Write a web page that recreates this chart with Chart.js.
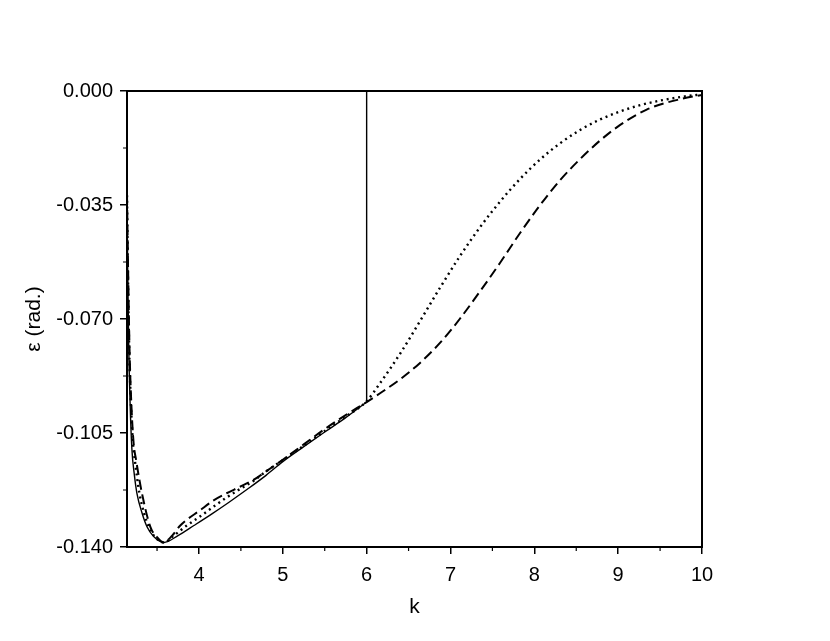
<!DOCTYPE html>
<html>
<head>
<meta charset="utf-8">
<title>epsilon(k)</title>
<script src="https://cdn.jsdelivr.net/npm/chart.js@4.4.1/dist/chart.umd.min.js"></script>
<style>
    html, body { margin: 0; padding: 0; background: #fff; }
    #wrap { width: 830px; height: 641px; }
</style>
</head>
<body>
<div id="wrap"><canvas id="epsChart" width="830" height="641"></canvas></div>
<script>
// Data
const kSolid = [3.1416, 3.15, 3.163, 3.18, 3.2, 3.23, 3.26, 3.32, 3.38, 3.46, 3.58, 3.75, 3.94, 4.15, 4.35, 4.58, 4.8, 5.0, 5.25, 5.5, 5.75, 6.0];
const epsSolid = [-0.032, -0.055, -0.0795, -0.097, -0.11, -0.118, -0.1235, -0.1295, -0.1338, -0.1368, -0.1386, -0.1365, -0.1334, -0.1299, -0.1264, -0.1222, -0.118, -0.1138, -0.1092, -0.1047, -0.1003, -0.0955];

// solid line jumps to zero at k = 6
const kJump = [6.0, 6.0, 10.0];
const epsJump = [-0.0955, 0, 0];

const kDotted = [3.1416, 3.152, 3.168, 3.19, 3.212, 3.235, 3.29, 3.4, 3.48, 3.58, 3.7, 3.85, 4.02, 4.18, 4.33, 4.49, 4.65, 4.8, 5.0, 5.25, 5.5, 5.75, 6.0,
    6.16, 6.4, 6.64, 6.88, 7.11, 7.35, 7.59, 7.83, 8.07, 8.31, 8.55, 8.78, 9.02, 9.27, 9.53, 9.76, 10.0];
const epsDotted = [-0.032, -0.055, -0.0795, -0.097, -0.108, -0.1133, -0.1235, -0.1338, -0.137, -0.1386, -0.1365, -0.1335, -0.1305, -0.1275, -0.1248, -0.1222, -0.1197, -0.1168, -0.1133, -0.1089, -0.1044, -0.1, -0.0952,
    -0.0897, -0.0806, -0.0705, -0.0602, -0.0508, -0.0419, -0.034, -0.027, -0.021, -0.016, -0.0119, -0.0088, -0.0063, -0.0043, -0.0028, -0.0018, -0.001];

const kDashed = [3.1416, 3.155, 3.172, 3.195, 3.22, 3.25, 3.32, 3.42, 3.5, 3.58, 3.68, 3.78, 4.02, 4.18, 4.33, 4.49, 4.65, 4.8, 5.0, 5.25, 5.5, 5.75, 6.0,
    6.16, 6.4, 6.64, 6.88, 7.11, 7.35, 7.59, 7.83, 8.07, 8.31, 8.55, 8.78, 9.02, 9.34, 9.74, 10.0];
const epsDashed = [-0.032, -0.055, -0.0795, -0.097, -0.108, -0.1133, -0.1235, -0.1338, -0.137, -0.1386, -0.1365, -0.1333, -0.1286, -0.1256, -0.1235, -0.1215, -0.1194, -0.1168, -0.1132, -0.1085, -0.1038, -0.0995, -0.0955,
    -0.0928, -0.0885, -0.0834, -0.0772, -0.07, -0.0616, -0.0528, -0.0436, -0.035, -0.0273, -0.0208, -0.0153, -0.0105, -0.0057, -0.0025, -0.0012];

// Axis ticks
const xTicks = [4, 5, 6, 7, 8, 9, 10];
const xMinorTicks = [3.5, 4.5, 5.5, 6.5, 7.5, 8.5, 9.5];
const yTicks = [-0.14, -0.105, -0.07, -0.035, 0];
const yMinorTicks = [-0.1225, -0.0875, -0.0525, -0.0175];

const FONT = 'Liberation Sans, Arial, Helvetica, sans-serif';

function toPoints(xs, ys) {
    return xs.map((x, i) => ({ x: x, y: ys[i] }));
}

// frame around the plot + short minor ticks
const framePlugin = {
    id: 'frame',
    afterDraw(chart) {
        const { ctx, chartArea } = chart;
        const xs = chart.scales.x;
        const ys = chart.scales.y;
        ctx.save();
        ctx.strokeStyle = '#000';
        ctx.lineWidth = 1.2;
        ctx.beginPath();
        xMinorTicks.forEach(v => {
            const px = xs.getPixelForValue(v);
            ctx.moveTo(px, chartArea.bottom);
            ctx.lineTo(px, chartArea.bottom + 4);
        });
        yMinorTicks.forEach(v => {
            const py = ys.getPixelForValue(v);
            ctx.moveTo(chartArea.left, py);
            ctx.lineTo(chartArea.left - 4, py);
        });
        ctx.stroke();
        ctx.lineWidth = 2;
        ctx.strokeRect(chartArea.left, chartArea.top, chartArea.right - chartArea.left, chartArea.bottom - chartArea.top);
        ctx.restore();
    }
};

const lineBase = {
    pointRadius: 0,
    borderColor: '#000',
    fill: false,
    cubicInterpolationMode: 'monotone'
};

new Chart(document.getElementById('epsChart').getContext('2d'), {
    type: 'line',
    data: {
        datasets: [
            Object.assign({}, lineBase, { label: 'solid', data: toPoints(kSolid, epsSolid), borderWidth: 1.4 }),
            Object.assign({}, lineBase, { label: 'jump', data: toPoints(kJump, epsJump), borderWidth: 1.4, cubicInterpolationMode: 'default', tension: 0 }),
            Object.assign({}, lineBase, { label: 'dotted', data: toPoints(kDotted, epsDotted), borderWidth: 2.4, borderDash: [2, 3.8] }),
            Object.assign({}, lineBase, { label: 'dashed', data: toPoints(kDashed, epsDashed), borderWidth: 2, borderDash: [10, 5] })
        ]
    },
    options: {
        responsive: false,
        animation: false,
        layout: { padding: { top: 91, right: 128, bottom: 0, left: 0 } },
        plugins: {
            legend: { display: false },
            tooltip: { enabled: false }
        },
        scales: {
            x: {
                type: 'linear',
                min: Math.PI,
                max: 10,
                afterBuildTicks: scale => { scale.ticks = xTicks.map(v => ({ value: v })); },
                afterFit: scale => { scale.height = 94; },
                grid: { drawOnChartArea: false, drawTicks: true, tickLength: 7, color: '#000', lineWidth: 1.5 },
                border: { color: '#000', width: 2 },
                ticks: { color: '#000', padding: 9, maxRotation: 0, font: { family: FONT, size: 20 }, callback: v => String(v) },
                title: { display: true, text: 'k', color: '#000', font: { family: FONT, size: 21 }, padding: { top: 0, bottom: 21 } }
            },
            y: {
                type: 'linear',
                min: -0.14,
                max: 0,
                afterBuildTicks: scale => { scale.ticks = yTicks.map(v => ({ value: v })); },
                afterFit: scale => { scale.width = 127; },
                grid: { drawOnChartArea: false, drawTicks: true, tickLength: 7, color: '#000', lineWidth: 1.5 },
                border: { color: '#000', width: 2 },
                ticks: { color: '#000', padding: 7, font: { family: FONT, size: 20 }, callback: v => Number(v).toFixed(3) },
                title: { display: true, text: 'ε (rad.)', color: '#000', font: { family: FONT, size: 21 }, padding: { top: 22, bottom: 0 } }
            }
        }
    },
    plugins: [framePlugin]
});
</script>
</body>
</html>
